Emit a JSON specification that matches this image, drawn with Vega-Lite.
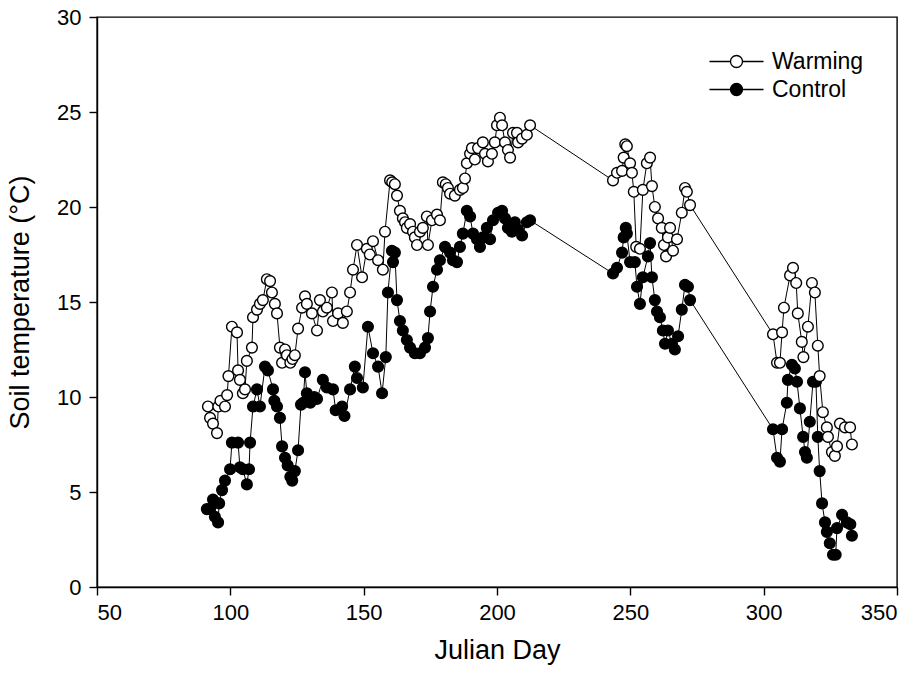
{
  "$schema": "https://vega.github.io/schema/vega-lite/v6.json",
  "width": 800,
  "height": 570,
  "autosize": {"type": "none"},
  "padding": {"left": 97, "top": 17, "right": 18, "bottom": 90},
  "background": "white",
  "config": {
    "font": "Liberation Sans",
    "view": {"stroke": "black", "strokeWidth": 1.4},
    "axis": {
      "grid": false,
      "domainColor": "black",
      "domainWidth": 1.4,
      "tickColor": "black",
      "tickWidth": 1.4,
      "tickSize": 8,
      "labelColor": "black",
      "labelFontSize": 22,
      "labelFont": "Liberation Sans",
      "titleFont": "Liberation Sans",
      "titleFontSize": 27,
      "titleFontWeight": "normal",
      "titleColor": "black"
    }
  },
  "datasets": {
    "temps": [
      {"treatment": "Warming", "day": 91.6, "temp": 9.5},
      {"treatment": "Warming", "day": 92.4, "temp": 8.9},
      {"treatment": "Warming", "day": 93.5, "temp": 8.6},
      {"treatment": "Warming", "day": 95.0, "temp": 8.1},
      {"treatment": "Warming", "day": 95.5, "temp": 9.5},
      {"treatment": "Warming", "day": 96.3, "temp": 9.8},
      {"treatment": "Warming", "day": 98.0, "temp": 9.5},
      {"treatment": "Warming", "day": 98.8, "temp": 10.1},
      {"treatment": "Warming", "day": 99.3, "temp": 11.1},
      {"treatment": "Warming", "day": 100.6, "temp": 13.7},
      {"treatment": "Warming", "day": 102.5, "temp": 13.4},
      {"treatment": "Warming", "day": 102.9, "temp": 11.4},
      {"treatment": "Warming", "day": 103.6, "temp": 10.9},
      {"treatment": "Warming", "day": 104.7, "temp": 10.2},
      {"treatment": "Warming", "day": 105.5, "temp": 10.4},
      {"treatment": "Warming", "day": 106.2, "temp": 11.9},
      {"treatment": "Warming", "day": 108.1, "temp": 12.6},
      {"treatment": "Warming", "day": 108.5, "temp": 14.2},
      {"treatment": "Warming", "day": 110.0, "temp": 14.6},
      {"treatment": "Warming", "day": 111.1, "temp": 14.9},
      {"treatment": "Warming", "day": 112.2, "temp": 15.1},
      {"treatment": "Warming", "day": 113.7, "temp": 16.2},
      {"treatment": "Warming", "day": 114.9, "temp": 16.1},
      {"treatment": "Warming", "day": 115.6, "temp": 15.5},
      {"treatment": "Warming", "day": 116.7, "temp": 14.9},
      {"treatment": "Warming", "day": 117.5, "temp": 14.4},
      {"treatment": "Warming", "day": 118.6, "temp": 12.6},
      {"treatment": "Warming", "day": 119.4, "temp": 11.8},
      {"treatment": "Warming", "day": 120.5, "temp": 12.5},
      {"treatment": "Warming", "day": 121.2, "temp": 12.2},
      {"treatment": "Warming", "day": 122.5, "temp": 11.8},
      {"treatment": "Warming", "day": 123.3, "temp": 12.0},
      {"treatment": "Warming", "day": 124.2, "temp": 12.2},
      {"treatment": "Warming", "day": 125.4, "temp": 13.6},
      {"treatment": "Warming", "day": 126.9, "temp": 14.7},
      {"treatment": "Warming", "day": 128.0, "temp": 15.3},
      {"treatment": "Warming", "day": 128.7, "temp": 14.9},
      {"treatment": "Warming", "day": 130.6, "temp": 14.4},
      {"treatment": "Warming", "day": 132.5, "temp": 13.5},
      {"treatment": "Warming", "day": 133.6, "temp": 15.1},
      {"treatment": "Warming", "day": 134.7, "temp": 14.5},
      {"treatment": "Warming", "day": 136.2, "temp": 14.7},
      {"treatment": "Warming", "day": 138.1, "temp": 15.5},
      {"treatment": "Warming", "day": 138.5, "temp": 14.0},
      {"treatment": "Warming", "day": 140.4, "temp": 14.4},
      {"treatment": "Warming", "day": 142.2, "temp": 13.9},
      {"treatment": "Warming", "day": 143.7, "temp": 14.5},
      {"treatment": "Warming", "day": 144.9, "temp": 15.5},
      {"treatment": "Warming", "day": 146.0, "temp": 16.7},
      {"treatment": "Warming", "day": 147.5, "temp": 18.0},
      {"treatment": "Warming", "day": 149.4, "temp": 16.3},
      {"treatment": "Warming", "day": 151.2, "temp": 17.8},
      {"treatment": "Warming", "day": 152.3, "temp": 17.5},
      {"treatment": "Warming", "day": 153.5, "temp": 18.2},
      {"treatment": "Warming", "day": 155.4, "temp": 17.2},
      {"treatment": "Warming", "day": 157.2, "temp": 16.7},
      {"treatment": "Warming", "day": 158.0, "temp": 18.7},
      {"treatment": "Warming", "day": 159.9, "temp": 21.4},
      {"treatment": "Warming", "day": 160.7, "temp": 21.3},
      {"treatment": "Warming", "day": 161.7, "temp": 21.2},
      {"treatment": "Warming", "day": 162.5, "temp": 20.6},
      {"treatment": "Warming", "day": 163.6, "temp": 19.8},
      {"treatment": "Warming", "day": 164.7, "temp": 19.4},
      {"treatment": "Warming", "day": 165.5, "temp": 19.2},
      {"treatment": "Warming", "day": 166.2, "temp": 18.9},
      {"treatment": "Warming", "day": 167.4, "temp": 19.1},
      {"treatment": "Warming", "day": 168.5, "temp": 18.7},
      {"treatment": "Warming", "day": 169.2, "temp": 18.4},
      {"treatment": "Warming", "day": 170.0, "temp": 18.0},
      {"treatment": "Warming", "day": 171.1, "temp": 18.7},
      {"treatment": "Warming", "day": 172.2, "temp": 18.9},
      {"treatment": "Warming", "day": 173.7, "temp": 19.5},
      {"treatment": "Warming", "day": 174.1, "temp": 18.0},
      {"treatment": "Warming", "day": 175.6, "temp": 19.3},
      {"treatment": "Warming", "day": 177.5, "temp": 19.6},
      {"treatment": "Warming", "day": 178.6, "temp": 19.3},
      {"treatment": "Warming", "day": 179.7, "temp": 21.3},
      {"treatment": "Warming", "day": 180.8, "temp": 21.2},
      {"treatment": "Warming", "day": 181.6, "temp": 21.0},
      {"treatment": "Warming", "day": 182.4, "temp": 20.7},
      {"treatment": "Warming", "day": 184.2, "temp": 20.6},
      {"treatment": "Warming", "day": 186.1, "temp": 20.9},
      {"treatment": "Warming", "day": 187.2, "temp": 21.0},
      {"treatment": "Warming", "day": 188.0, "temp": 21.5},
      {"treatment": "Warming", "day": 188.7, "temp": 22.3},
      {"treatment": "Warming", "day": 189.9, "temp": 22.8},
      {"treatment": "Warming", "day": 190.6, "temp": 23.1},
      {"treatment": "Warming", "day": 191.7, "temp": 22.5},
      {"treatment": "Warming", "day": 192.9, "temp": 23.1},
      {"treatment": "Warming", "day": 194.7, "temp": 23.4},
      {"treatment": "Warming", "day": 195.5, "temp": 22.8},
      {"treatment": "Warming", "day": 196.6, "temp": 22.4},
      {"treatment": "Warming", "day": 198.1, "temp": 22.8},
      {"treatment": "Warming", "day": 199.2, "temp": 23.4},
      {"treatment": "Warming", "day": 200.0, "temp": 24.3},
      {"treatment": "Warming", "day": 201.1, "temp": 24.7},
      {"treatment": "Warming", "day": 201.9, "temp": 24.3},
      {"treatment": "Warming", "day": 203.0, "temp": 23.4},
      {"treatment": "Warming", "day": 204.1, "temp": 23.0},
      {"treatment": "Warming", "day": 204.9, "temp": 22.6},
      {"treatment": "Warming", "day": 206.0, "temp": 23.9},
      {"treatment": "Warming", "day": 207.5, "temp": 23.9},
      {"treatment": "Warming", "day": 207.9, "temp": 23.4},
      {"treatment": "Warming", "day": 209.4, "temp": 23.6},
      {"treatment": "Warming", "day": 211.2, "temp": 23.8},
      {"treatment": "Warming", "day": 212.4, "temp": 24.3},
      {"treatment": "Warming", "day": 243.5, "temp": 21.4},
      {"treatment": "Warming", "day": 245.0, "temp": 21.8},
      {"treatment": "Warming", "day": 246.9, "temp": 21.9},
      {"treatment": "Warming", "day": 247.5, "temp": 22.6},
      {"treatment": "Warming", "day": 248.1, "temp": 23.3},
      {"treatment": "Warming", "day": 248.7, "temp": 23.2},
      {"treatment": "Warming", "day": 249.9, "temp": 22.3},
      {"treatment": "Warming", "day": 250.6, "temp": 21.8},
      {"treatment": "Warming", "day": 251.3, "temp": 20.8},
      {"treatment": "Warming", "day": 252.2, "temp": 17.9},
      {"treatment": "Warming", "day": 253.6, "temp": 17.8},
      {"treatment": "Warming", "day": 254.7, "temp": 20.9},
      {"treatment": "Warming", "day": 256.2, "temp": 22.3},
      {"treatment": "Warming", "day": 257.4, "temp": 22.6},
      {"treatment": "Warming", "day": 258.1, "temp": 21.1},
      {"treatment": "Warming", "day": 259.2, "temp": 20.0},
      {"treatment": "Warming", "day": 260.4, "temp": 19.4},
      {"treatment": "Warming", "day": 261.8, "temp": 18.9},
      {"treatment": "Warming", "day": 262.6, "temp": 18.0},
      {"treatment": "Warming", "day": 263.4, "temp": 17.4},
      {"treatment": "Warming", "day": 264.1, "temp": 18.4},
      {"treatment": "Warming", "day": 264.9, "temp": 18.9},
      {"treatment": "Warming", "day": 266.0, "temp": 17.7},
      {"treatment": "Warming", "day": 267.5, "temp": 18.3},
      {"treatment": "Warming", "day": 269.3, "temp": 19.7},
      {"treatment": "Warming", "day": 270.5, "temp": 21.0},
      {"treatment": "Warming", "day": 271.2, "temp": 20.8},
      {"treatment": "Warming", "day": 272.4, "temp": 20.1},
      {"treatment": "Warming", "day": 303.5, "temp": 13.3},
      {"treatment": "Warming", "day": 305.0, "temp": 11.8},
      {"treatment": "Warming", "day": 306.1, "temp": 11.8},
      {"treatment": "Warming", "day": 306.9, "temp": 13.4},
      {"treatment": "Warming", "day": 307.6, "temp": 14.7},
      {"treatment": "Warming", "day": 309.9, "temp": 16.4},
      {"treatment": "Warming", "day": 311.0, "temp": 16.8},
      {"treatment": "Warming", "day": 312.2, "temp": 16.0},
      {"treatment": "Warming", "day": 312.8, "temp": 14.4},
      {"treatment": "Warming", "day": 314.3, "temp": 12.9},
      {"treatment": "Warming", "day": 314.9, "temp": 12.1},
      {"treatment": "Warming", "day": 316.6, "temp": 13.7},
      {"treatment": "Warming", "day": 318.1, "temp": 16.0},
      {"treatment": "Warming", "day": 319.2, "temp": 15.5},
      {"treatment": "Warming", "day": 320.3, "temp": 12.7},
      {"treatment": "Warming", "day": 321.0, "temp": 11.1},
      {"treatment": "Warming", "day": 322.2, "temp": 9.2},
      {"treatment": "Warming", "day": 323.7, "temp": 8.4},
      {"treatment": "Warming", "day": 324.1, "temp": 7.9},
      {"treatment": "Warming", "day": 325.6, "temp": 7.1},
      {"treatment": "Warming", "day": 326.7, "temp": 6.9},
      {"treatment": "Warming", "day": 327.5, "temp": 7.4},
      {"treatment": "Warming", "day": 328.6, "temp": 8.6},
      {"treatment": "Warming", "day": 330.5, "temp": 8.4},
      {"treatment": "Warming", "day": 332.4, "temp": 8.4},
      {"treatment": "Warming", "day": 333.1, "temp": 7.5},
      {"treatment": "Control", "day": 91.2, "temp": 4.1},
      {"treatment": "Control", "day": 92.4, "temp": 4.1},
      {"treatment": "Control", "day": 93.5, "temp": 4.6},
      {"treatment": "Control", "day": 94.2, "temp": 3.7},
      {"treatment": "Control", "day": 95.4, "temp": 3.4},
      {"treatment": "Control", "day": 95.8, "temp": 4.4},
      {"treatment": "Control", "day": 96.9, "temp": 5.1},
      {"treatment": "Control", "day": 98.0, "temp": 5.6},
      {"treatment": "Control", "day": 99.9, "temp": 6.2},
      {"treatment": "Control", "day": 100.6, "temp": 7.6},
      {"treatment": "Control", "day": 102.9, "temp": 7.6},
      {"treatment": "Control", "day": 103.6, "temp": 6.3},
      {"treatment": "Control", "day": 104.7, "temp": 6.2},
      {"treatment": "Control", "day": 106.2, "temp": 5.4},
      {"treatment": "Control", "day": 107.0, "temp": 6.2},
      {"treatment": "Control", "day": 107.4, "temp": 7.6},
      {"treatment": "Control", "day": 108.5, "temp": 9.5},
      {"treatment": "Control", "day": 110.0, "temp": 10.4},
      {"treatment": "Control", "day": 111.1, "temp": 9.5},
      {"treatment": "Control", "day": 113.0, "temp": 11.6},
      {"treatment": "Control", "day": 114.1, "temp": 11.4},
      {"treatment": "Control", "day": 116.0, "temp": 10.4},
      {"treatment": "Control", "day": 116.5, "temp": 9.8},
      {"treatment": "Control", "day": 117.5, "temp": 9.5},
      {"treatment": "Control", "day": 118.6, "temp": 8.9},
      {"treatment": "Control", "day": 119.4, "temp": 7.4},
      {"treatment": "Control", "day": 120.5, "temp": 6.8},
      {"treatment": "Control", "day": 121.5, "temp": 6.4},
      {"treatment": "Control", "day": 122.5, "temp": 5.8},
      {"treatment": "Control", "day": 123.2, "temp": 5.6},
      {"treatment": "Control", "day": 124.2, "temp": 6.1},
      {"treatment": "Control", "day": 125.4, "temp": 7.2},
      {"treatment": "Control", "day": 126.5, "temp": 9.6},
      {"treatment": "Control", "day": 127.3, "temp": 9.7},
      {"treatment": "Control", "day": 128.0, "temp": 11.3},
      {"treatment": "Control", "day": 128.7, "temp": 10.2},
      {"treatment": "Control", "day": 130.0, "temp": 9.7},
      {"treatment": "Control", "day": 131.5, "temp": 10.0},
      {"treatment": "Control", "day": 132.5, "temp": 9.9},
      {"treatment": "Control", "day": 134.7, "temp": 10.9},
      {"treatment": "Control", "day": 136.2, "temp": 10.5},
      {"treatment": "Control", "day": 138.5, "temp": 10.4},
      {"treatment": "Control", "day": 139.5, "temp": 9.3},
      {"treatment": "Control", "day": 141.9, "temp": 9.5},
      {"treatment": "Control", "day": 142.8, "temp": 9.0},
      {"treatment": "Control", "day": 144.9, "temp": 10.4},
      {"treatment": "Control", "day": 146.7, "temp": 11.6},
      {"treatment": "Control", "day": 147.5, "temp": 11.0},
      {"treatment": "Control", "day": 149.7, "temp": 10.5},
      {"treatment": "Control", "day": 151.6, "temp": 13.7},
      {"treatment": "Control", "day": 153.5, "temp": 12.3},
      {"treatment": "Control", "day": 155.4, "temp": 11.6},
      {"treatment": "Control", "day": 156.9, "temp": 10.2},
      {"treatment": "Control", "day": 158.3, "temp": 12.1},
      {"treatment": "Control", "day": 159.1, "temp": 15.5},
      {"treatment": "Control", "day": 160.6, "temp": 17.7},
      {"treatment": "Control", "day": 161.0, "temp": 17.1},
      {"treatment": "Control", "day": 161.7, "temp": 17.6},
      {"treatment": "Control", "day": 162.5, "temp": 15.1},
      {"treatment": "Control", "day": 163.6, "temp": 14.0},
      {"treatment": "Control", "day": 164.7, "temp": 13.5},
      {"treatment": "Control", "day": 166.2, "temp": 13.0},
      {"treatment": "Control", "day": 167.4, "temp": 12.6},
      {"treatment": "Control", "day": 169.2, "temp": 12.3},
      {"treatment": "Control", "day": 171.1, "temp": 12.3},
      {"treatment": "Control", "day": 173.0, "temp": 12.6},
      {"treatment": "Control", "day": 174.1, "temp": 13.1},
      {"treatment": "Control", "day": 174.9, "temp": 14.5},
      {"treatment": "Control", "day": 176.0, "temp": 15.8},
      {"treatment": "Control", "day": 177.5, "temp": 16.7},
      {"treatment": "Control", "day": 178.6, "temp": 17.2},
      {"treatment": "Control", "day": 180.5, "temp": 17.9},
      {"treatment": "Control", "day": 182.4, "temp": 17.6},
      {"treatment": "Control", "day": 183.5, "temp": 17.2},
      {"treatment": "Control", "day": 185.0, "temp": 17.1},
      {"treatment": "Control", "day": 186.1, "temp": 17.9},
      {"treatment": "Control", "day": 187.2, "temp": 18.6},
      {"treatment": "Control", "day": 188.7, "temp": 19.8},
      {"treatment": "Control", "day": 189.9, "temp": 19.5},
      {"treatment": "Control", "day": 191.0, "temp": 18.6},
      {"treatment": "Control", "day": 192.5, "temp": 18.3},
      {"treatment": "Control", "day": 193.6, "temp": 17.9},
      {"treatment": "Control", "day": 194.7, "temp": 18.4},
      {"treatment": "Control", "day": 196.2, "temp": 18.9},
      {"treatment": "Control", "day": 197.4, "temp": 18.3},
      {"treatment": "Control", "day": 198.5, "temp": 19.3},
      {"treatment": "Control", "day": 200.4, "temp": 19.7},
      {"treatment": "Control", "day": 201.9, "temp": 19.8},
      {"treatment": "Control", "day": 203.0, "temp": 19.4},
      {"treatment": "Control", "day": 204.1, "temp": 18.9},
      {"treatment": "Control", "day": 205.6, "temp": 18.7},
      {"treatment": "Control", "day": 206.7, "temp": 19.2},
      {"treatment": "Control", "day": 207.9, "temp": 18.8},
      {"treatment": "Control", "day": 209.4, "temp": 18.5},
      {"treatment": "Control", "day": 211.2, "temp": 19.2},
      {"treatment": "Control", "day": 212.4, "temp": 19.3},
      {"treatment": "Control", "day": 243.5, "temp": 16.5},
      {"treatment": "Control", "day": 245.0, "temp": 16.8},
      {"treatment": "Control", "day": 246.9, "temp": 17.6},
      {"treatment": "Control", "day": 247.5, "temp": 18.4},
      {"treatment": "Control", "day": 248.3, "temp": 18.9},
      {"treatment": "Control", "day": 248.7, "temp": 18.6},
      {"treatment": "Control", "day": 249.9, "temp": 17.1},
      {"treatment": "Control", "day": 251.7, "temp": 17.1},
      {"treatment": "Control", "day": 252.5, "temp": 15.8},
      {"treatment": "Control", "day": 253.6, "temp": 14.9},
      {"treatment": "Control", "day": 254.7, "temp": 16.3},
      {"treatment": "Control", "day": 256.6, "temp": 17.4},
      {"treatment": "Control", "day": 257.4, "temp": 18.1},
      {"treatment": "Control", "day": 258.1, "temp": 16.3},
      {"treatment": "Control", "day": 259.2, "temp": 15.1},
      {"treatment": "Control", "day": 260.0, "temp": 14.5},
      {"treatment": "Control", "day": 261.1, "temp": 14.2},
      {"treatment": "Control", "day": 262.2, "temp": 13.5},
      {"treatment": "Control", "day": 263.0, "temp": 12.8},
      {"treatment": "Control", "day": 264.1, "temp": 13.5},
      {"treatment": "Control", "day": 265.6, "temp": 12.8},
      {"treatment": "Control", "day": 266.7, "temp": 12.5},
      {"treatment": "Control", "day": 267.9, "temp": 13.2},
      {"treatment": "Control", "day": 269.3, "temp": 14.6},
      {"treatment": "Control", "day": 270.5, "temp": 15.9},
      {"treatment": "Control", "day": 271.6, "temp": 15.8},
      {"treatment": "Control", "day": 272.4, "temp": 15.1},
      {"treatment": "Control", "day": 303.5, "temp": 8.3},
      {"treatment": "Control", "day": 305.0, "temp": 6.8},
      {"treatment": "Control", "day": 306.1, "temp": 6.6},
      {"treatment": "Control", "day": 306.9, "temp": 8.3},
      {"treatment": "Control", "day": 308.7, "temp": 9.7},
      {"treatment": "Control", "day": 309.1, "temp": 10.9},
      {"treatment": "Control", "day": 310.6, "temp": 11.7},
      {"treatment": "Control", "day": 311.7, "temp": 11.5},
      {"treatment": "Control", "day": 312.5, "temp": 10.8},
      {"treatment": "Control", "day": 313.6, "temp": 9.4},
      {"treatment": "Control", "day": 314.8, "temp": 7.9},
      {"treatment": "Control", "day": 315.5, "temp": 7.1},
      {"treatment": "Control", "day": 316.2, "temp": 6.8},
      {"treatment": "Control", "day": 317.3, "temp": 8.7},
      {"treatment": "Control", "day": 318.5, "temp": 10.8},
      {"treatment": "Control", "day": 319.6, "temp": 10.8},
      {"treatment": "Control", "day": 320.3, "temp": 7.9},
      {"treatment": "Control", "day": 321.0, "temp": 6.1},
      {"treatment": "Control", "day": 321.9, "temp": 4.4},
      {"treatment": "Control", "day": 323.0, "temp": 3.4},
      {"treatment": "Control", "day": 323.7, "temp": 2.9},
      {"treatment": "Control", "day": 324.8, "temp": 2.3},
      {"treatment": "Control", "day": 326.0, "temp": 1.7},
      {"treatment": "Control", "day": 327.0, "temp": 1.7},
      {"treatment": "Control", "day": 327.5, "temp": 3.1},
      {"treatment": "Control", "day": 329.4, "temp": 3.8},
      {"treatment": "Control", "day": 331.2, "temp": 3.4},
      {"treatment": "Control", "day": 332.5, "temp": 3.3},
      {"treatment": "Control", "day": 333.1, "temp": 2.7}
    ]
  },
  "data": {"name": "temps"},
  "encoding": {
    "x": {
      "field": "day",
      "type": "quantitative",
      "scale": {"domain": [50, 350], "nice": false, "zero": false},
      "axis": {"values": [50, 100, 150, 200, 250, 300, 350], "title": "Julian Day", "labelPadding": 7, "titlePadding": 14}
    },
    "y": {
      "field": "temp",
      "type": "quantitative",
      "scale": {"domain": [0, 30], "nice": false},
      "axis": {"values": [0, 5, 10, 15, 20, 25, 30], "title": "Soil temperature (°C)", "labelPadding": 8, "titlePadding": 22}
    }
  },
  "layer": [
    {
      "mark": {"type": "line", "color": "black", "strokeWidth": 1},
      "encoding": {
        "detail": {"field": "treatment"},
        "order": {"field": "day", "type": "quantitative"}
      }
    },
    {
      "transform": [{"filter": "datum.treatment === 'Control'"}],
      "mark": {"type": "circle", "size": 115, "stroke": "black", "strokeWidth": 1.4, "opacity": 1},
      "encoding": {
        "fill": {
          "field": "treatment",
          "type": "nominal",
          "scale": {"domain": ["Warming", "Control"], "range": ["white", "black"]},
          "legend": {
            "title": null,
            "orient": "none",
            "legendX": 628,
            "legendY": 33,
            "padding": 0,
            "symbolType": "M-4.5,0L-1,0M1,0L4.5,0M-1,0A1,1,0,1,1,1,0A1,1,0,1,1,-1,0Z",
            "symbolSize": 144,
            "symbolStrokeColor": "black",
            "symbolStrokeWidth": 1.3,
            "symbolOpacity": 1,
            "labelFontSize": 23,
            "labelColor": "black",
            "labelOffset": 24,
            "rowPadding": 4
          }
        }
      }
    },
    {
      "transform": [{"filter": "datum.treatment === 'Warming'"}],
      "mark": {"type": "circle", "size": 115, "stroke": "black", "strokeWidth": 1.4, "opacity": 1},
      "encoding": {
        "fill": {"field": "treatment", "type": "nominal"}
      }
    }
  ]
}
